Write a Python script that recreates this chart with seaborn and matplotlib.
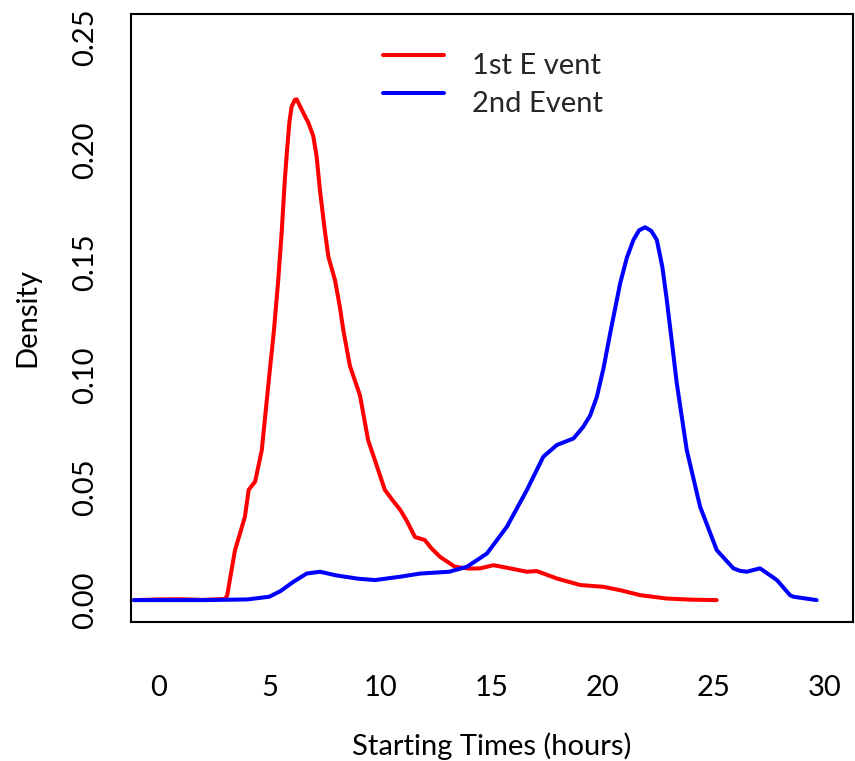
import matplotlib
matplotlib.use("Agg")
import matplotlib.pyplot as plt
import seaborn as sns
import pandas as pd

# ---- data ----
red_x = [-1.1, 0.0, 1.0, 2.0, 3.0, 3.1, 3.45, 3.9, 4.07, 4.36, 4.66, 5.0, 5.21, 5.4,
         5.56, 5.7, 5.8, 5.9, 6.0, 6.15, 6.23, 6.4, 6.6, 6.76, 6.98, 7.13, 7.28,
         7.5, 7.66, 7.96, 8.18, 8.33, 8.63, 9.08, 9.45, 9.76, 10.2, 10.5, 10.9,
         11.2, 11.56, 12.0, 12.3, 12.69, 13.36, 14.0, 14.49, 15.09, 15.84, 16.6,
         17.04, 17.95, 19.0, 20.05, 20.8, 21.7, 22.9, 24.0, 25.15]
red_y = [0.0, 0.0003, 0.0004, 0.0001, 0.0005, 0.002, 0.022, 0.037, 0.049, 0.0526,
         0.0666, 0.100, 0.120, 0.142, 0.164, 0.187, 0.200, 0.212, 0.219, 0.2222,
         0.2224, 0.219, 0.215, 0.212, 0.206, 0.197, 0.182, 0.164, 0.1525, 0.142,
         0.130, 0.120, 0.104, 0.091, 0.071, 0.062, 0.049, 0.045, 0.040, 0.035,
         0.028, 0.0267, 0.023, 0.0192, 0.0148, 0.014, 0.0141, 0.0155, 0.0141,
         0.0126, 0.0129, 0.0096, 0.0067, 0.0059, 0.0044, 0.0022, 0.0007, 0.0002,
         0.0]

blue_x = [-1.1, 2.0, 4.0, 5.0, 5.5, 6.08, 6.68, 7.28, 8.0, 9.0, 9.76, 10.9, 11.8,
          13.1, 13.9, 14.8, 15.7, 16.6, 17.34, 17.95, 18.7, 19.14, 19.45, 19.75,
          20.05, 20.35, 20.8, 21.1, 21.4, 21.65, 21.92, 22.2, 22.45, 22.7, 22.9,
          23.1, 23.35, 23.8, 24.4, 25.15, 25.9, 26.2, 26.5, 27.1, 27.86, 28.45,
          28.6, 29.65]
blue_y = [0.0, 0.0, 0.0003, 0.0015, 0.004, 0.0081, 0.0118, 0.0126, 0.011, 0.0095,
          0.0089, 0.0104, 0.0118, 0.0126, 0.0148, 0.0207, 0.0326, 0.0489, 0.0637,
          0.0689, 0.0718, 0.077, 0.082, 0.0903, 0.103, 0.1185, 0.1407, 0.152,
          0.160, 0.1642, 0.1656, 0.1640, 0.160, 0.148, 0.1333, 0.117, 0.0963,
          0.0666, 0.0415, 0.0222, 0.0141, 0.013, 0.0126, 0.0141, 0.0089, 0.0022,
          0.0015, 0.0]

series_names = ["1st E vent", "2nd Event"]
series_colors = ["#FF0000", "#0000FF"]
x_ticks = [0, 5, 10, 15, 20, 25, 30]
y_ticks = [0.00, 0.05, 0.10, 0.15, 0.20, 0.25]
y_tick_labels = ["0.00", "0.05", "0.10", "0.15", "0.20", "0.25"]
x_label = "Starting Times (hours)"
y_label = "Density"

df = pd.concat([
    pd.DataFrame({"x": red_x, "y": red_y, "event": series_names[0]}),
    pd.DataFrame({"x": blue_x, "y": blue_y, "event": series_names[1]}),
], ignore_index=True)

sns.set_style("white")
plt.rcParams["font.family"] = ["Lato", "DejaVu Sans"]
plt.rcParams["lines.solid_capstyle"] = "round"
plt.rcParams["lines.solid_joinstyle"] = "round"

W, H = 855, 761
FS = 21
fig = plt.figure(figsize=(W / 100, H / 100), dpi=100)
ax = fig.add_axes([131 / W, 1 - 621.5 / H, (853.3 - 131) / W, (621.5 - 14) / H])

sns.lineplot(data=df, x="x", y="y", hue="event", palette=series_colors,
             hue_order=series_names, sort=False, estimator=None,
             linewidth=2.9, ax=ax)

ax.set_xlim(-1.23, 31.3)
ax.set_ylim(-0.0095, 0.2603)
ax.set_xticks(x_ticks)
ax.set_xticklabels([str(t) for t in x_ticks])
ax.set_yticks(y_ticks)
ax.set_yticklabels(y_tick_labels, rotation=90, va="center")

for s in ax.spines.values():
    s.set_visible(True)
    s.set_color("black")
    s.set_linewidth(1.5)

ax.tick_params(axis="both", which="major", direction="out", length=14.4,
               width=1.5, color="black", labelsize=FS, labelcolor="black")
ax.tick_params(axis="x", pad=24)
ax.tick_params(axis="y", pad=9)

ax.set_xlabel(x_label, fontsize=FS, labelpad=23, color="black")
ax.set_ylabel(y_label, fontsize=FS, labelpad=23, color="black")

handles, labels = ax.get_legend_handles_labels()
leg = ax.legend(handles, labels, loc="upper left",
                bbox_to_anchor=(383 / W, 1 - 44 / H),
                bbox_transform=fig.transFigure, frameon=False,
                fontsize=FS, handlelength=2.09, handletextpad=0.96,
                labelspacing=0.42, borderpad=0, borderaxespad=0)
for line in leg.get_lines():
    line.set_linewidth(2.9)
# in the reference the label text sits a little below its line sample
for txt in leg.get_texts():
    txt.set_y(-9)

fig.savefig("out.png", dpi=100)
